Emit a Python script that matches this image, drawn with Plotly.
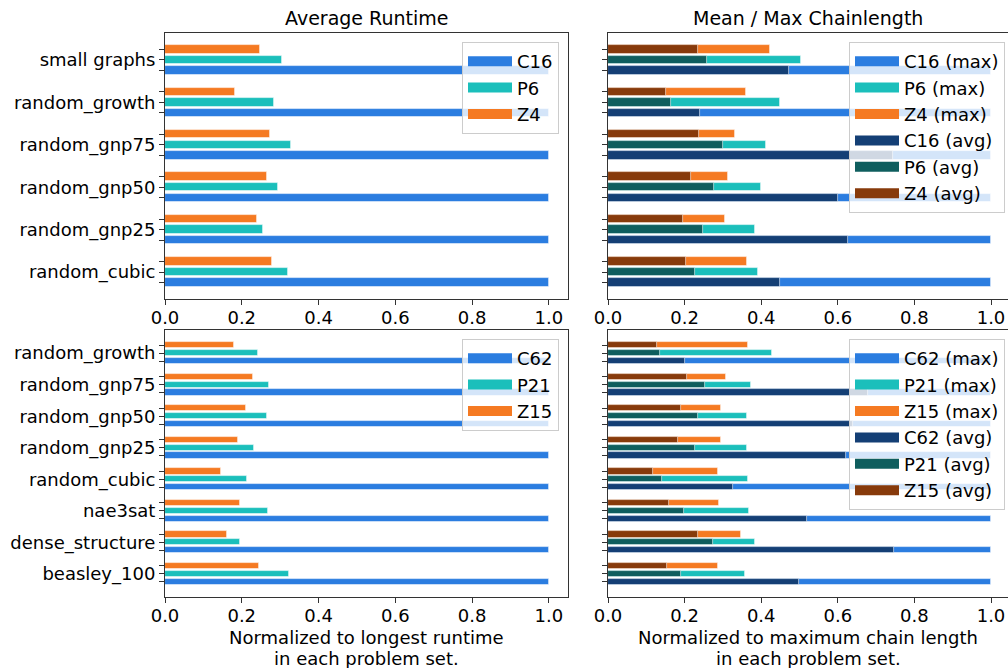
import plotly.graph_objects as go

# ---------------- data ----------------
top_cats = ["small graphs", "random_growth", "random_gnp75", "random_gnp50", "random_gnp25", "random_cubic"]
bot_cats = ["random_growth", "random_gnp75", "random_gnp50", "random_gnp25", "random_cubic",
            "nae3sat", "dense_structure", "beasley_100"]

# Average runtime (normalized)
rt_C16 = [1.0, 1.0, 1.0, 1.0, 1.0, 1.0]
rt_P6 = [0.306, 0.285, 0.329, 0.294, 0.255, 0.321]
rt_Z4 = [0.247, 0.183, 0.273, 0.266, 0.239, 0.280]

rt_C62 = [1.0, 1.0, 1.0, 1.0, 1.0, 1.0, 1.0, 1.0]
rt_P21 = [0.243, 0.270, 0.267, 0.231, 0.213, 0.269, 0.196, 0.324]
rt_Z15 = [0.180, 0.228, 0.211, 0.191, 0.146, 0.196, 0.162, 0.246]

# Chain length (normalized)
cl_C16_max = [1.0, 1.0, 1.0, 1.0, 1.0, 1.0]
cl_P6_max = [0.503, 0.449, 0.413, 0.399, 0.385, 0.392]
cl_Z4_max = [0.422, 0.360, 0.331, 0.312, 0.305, 0.362]
cl_C16_avg = [0.473, 0.241, 0.745, 0.600, 0.627, 0.449]
cl_P6_avg = [0.259, 0.164, 0.300, 0.276, 0.247, 0.226]
cl_Z4_avg = [0.234, 0.152, 0.238, 0.217, 0.196, 0.203]

cl_C62_max = [1.0, 1.0, 1.0, 1.0, 1.0, 1.0, 1.0, 1.0]
cl_P21_max = [0.429, 0.373, 0.363, 0.362, 0.366, 0.369, 0.383, 0.357]
cl_Z15_max = [0.365, 0.307, 0.294, 0.294, 0.287, 0.291, 0.347, 0.287]
cl_C62_avg = [0.201, 0.679, 0.639, 0.622, 0.327, 0.519, 0.748, 0.498]
cl_P21_avg = [0.135, 0.253, 0.235, 0.226, 0.141, 0.198, 0.273, 0.191]
cl_Z15_avg = [0.127, 0.206, 0.191, 0.183, 0.118, 0.159, 0.235, 0.154]

# ---------------- style ----------------
C_COL, P_COL, Z_COL = "#2b7de0", "#1bbfbb", "#f57a22"
C_DARK, P_DARK, Z_DARK = "#143f75", "#0f5e5e", "#873a0b"
FONT = "DejaVu Sans"
BAR_H = 0.2
OFF = 0.25
EDGE = dict(color="rgba(255,255,255,0.7)", width=0.8)

fig = go.Figure()


def add_bar(vals, offset, name, color, xa, ya):
    ys = [i + offset for i in range(len(vals))]
    fig.add_trace(go.Bar(
        x=vals, y=ys, orientation="h", width=BAR_H, name=name,
        marker=dict(color=color, line=EDGE),
        xaxis=xa, yaxis=ya, showlegend=False,
    ))


def add_key(name, color, xa, ya, legend):
    # legend-only entry with a wide rectangular swatch
    fig.add_trace(go.Scatter(
        x=[None], y=[None], mode="lines", name=name,
        line=dict(color=color, width=13),
        xaxis=xa, yaxis=ya, legend=legend, showlegend=True, hoverinfo="skip",
    ))


panels = [
    ("x", "y", "legend", [
        (rt_C16, OFF, "C16", C_COL), (rt_P6, 0, "P6", P_COL), (rt_Z4, -OFF, "Z4", Z_COL)]),
    ("x2", "y2", "legend2", [
        (cl_C16_max, OFF, "C16 (max)", C_COL), (cl_P6_max, 0, "P6 (max)", P_COL),
        (cl_Z4_max, -OFF, "Z4 (max)", Z_COL), (cl_C16_avg, OFF, "C16 (avg)", C_DARK),
        (cl_P6_avg, 0, "P6 (avg)", P_DARK), (cl_Z4_avg, -OFF, "Z4 (avg)", Z_DARK)]),
    ("x3", "y3", "legend3", [
        (rt_C62, OFF, "C62", C_COL), (rt_P21, 0, "P21", P_COL), (rt_Z15, -OFF, "Z15", Z_COL)]),
    ("x4", "y4", "legend4", [
        (cl_C62_max, OFF, "C62 (max)", C_COL), (cl_P21_max, 0, "P21 (max)", P_COL),
        (cl_Z15_max, -OFF, "Z15 (max)", Z_COL), (cl_C62_avg, OFF, "C62 (avg)", C_DARK),
        (cl_P21_avg, 0, "P21 (avg)", P_DARK), (cl_Z15_avg, -OFF, "Z15 (avg)", Z_DARK)]),
]
for xa, ya, lg, series in panels:
    for vals, off, name, col in series:
        add_bar(vals, off, name, col, xa, ya)
    for vals, off, name, col in series:
        add_key(name, col, xa, ya, lg)

# body margin is removed by the post script, so figure pixels == page pixels
W, H = 1008, 668


def px_x(p):
    return p / W


def px_y(p):
    return 1 - p / H


xl = [px_x(165), px_x(568)]
xr = [px_x(608), 1.0]
yt = [px_y(299), px_y(33)]
yb = [px_y(597), px_y(330)]

tickfont = dict(family=FONT, size=18, color="#000")
xticks = [0, 0.2, 0.4, 0.6, 0.8, 1.0]
xtext = ["0.0", "0.2", "0.4", "0.6", "0.8", "1.0"]


def xaxis(domain, anchor, rng):
    return dict(domain=domain, anchor=anchor, range=rng, tickvals=xticks, ticktext=xtext,
                showline=True, mirror=True, linecolor="#333", linewidth=1,
                ticks="outside", ticklen=5, tickcolor="#333", showgrid=False,
                zeroline=False, tickfont=tickfont, fixedrange=True, automargin=False,
                ticklabelstandoff=-3)


def ytick_info(cats, labels):
    vals, text = [], []
    for i, c in enumerate(cats):
        vals += [i - OFF, i, i + OFF]
        text += ["", c if labels else "", ""]
    return vals, text


def yaxis(domain, anchor, cats, labels):
    n = len(cats)
    m = 0.05 * (n - 1 + 2 * (OFF + BAR_H / 2))
    lo = -(OFF + BAR_H / 2) - m
    hi = n - 1 + OFF + BAR_H / 2 + m
    vals, text = ytick_info(cats, labels)
    return dict(domain=domain, anchor=anchor, range=[hi, lo], tickvals=vals, ticktext=text,
                showline=True, mirror=True, linecolor="#333", linewidth=1,
                ticks="outside", ticklen=5, tickcolor="#333", showgrid=False,
                zeroline=False, tickfont=tickfont, fixedrange=True, automargin=False)


xr_range = [0, (1008 - 608) / 383]

legend_common = dict(bgcolor="rgba(255,255,255,0.8)", bordercolor="#cccccc", borderwidth=1,
                     font=dict(family=FONT, size=18, color="#000"), itemwidth=44,
                     xanchor="right", yanchor="top", tracegroupgap=0)


def note(text, xc, ypx, size):
    return dict(text=text, x=xc, y=px_y(ypx), xref="paper", yref="paper", showarrow=False,
                xanchor="center", yanchor="middle", font=dict(family=FONT, size=size, color="#000"))


cl = (xl[0] + xl[1]) / 2
cr = px_x(808)

fig.update_layout(
    width=W, height=H,
    margin=dict(l=0, r=0, t=0, b=0, autoexpand=False),
    paper_bgcolor="white", plot_bgcolor="white",
    barmode="overlay", bargap=0,
    font=dict(family=FONT, color="#000"),
    xaxis=xaxis(xl, "y", [0, 1.05]),
    yaxis=yaxis(yt, "x", top_cats, True),
    xaxis2=xaxis(xr, "y2", xr_range),
    yaxis2=yaxis(yt, "x2", top_cats, False),
    xaxis3=xaxis(xl, "y3", [0, 1.05]),
    yaxis3=yaxis(yb, "x3", bot_cats, True),
    xaxis4=xaxis(xr, "y4", xr_range),
    yaxis4=yaxis(yb, "x4", bot_cats, False),
    legend=dict(x=px_x(559), y=px_y(42), **legend_common),
    legend2=dict(x=px_x(1005), y=px_y(42), **legend_common),
    legend3=dict(x=px_x(559), y=px_y(339), **legend_common),
    legend4=dict(x=px_x(1005), y=px_y(339), **legend_common),
    annotations=[
        note("Average Runtime", cl, 18, 19),
        note("Mean / Max Chainlength", cr, 18, 19),
        note("Normalized to longest runtime", cl, 637, 18),
        note("in each problem set.", cl, 658, 18),
        note("Normalized to maximum chain length", cr, 637, 18),
        note("in each problem set.", cr, 658, 18),
    ],
)

fig.write_html(
    "out.html",
    config={"displayModeBar": False},
    post_script="document.body.style.margin='0px';document.documentElement.style.overflow='hidden';",
)
